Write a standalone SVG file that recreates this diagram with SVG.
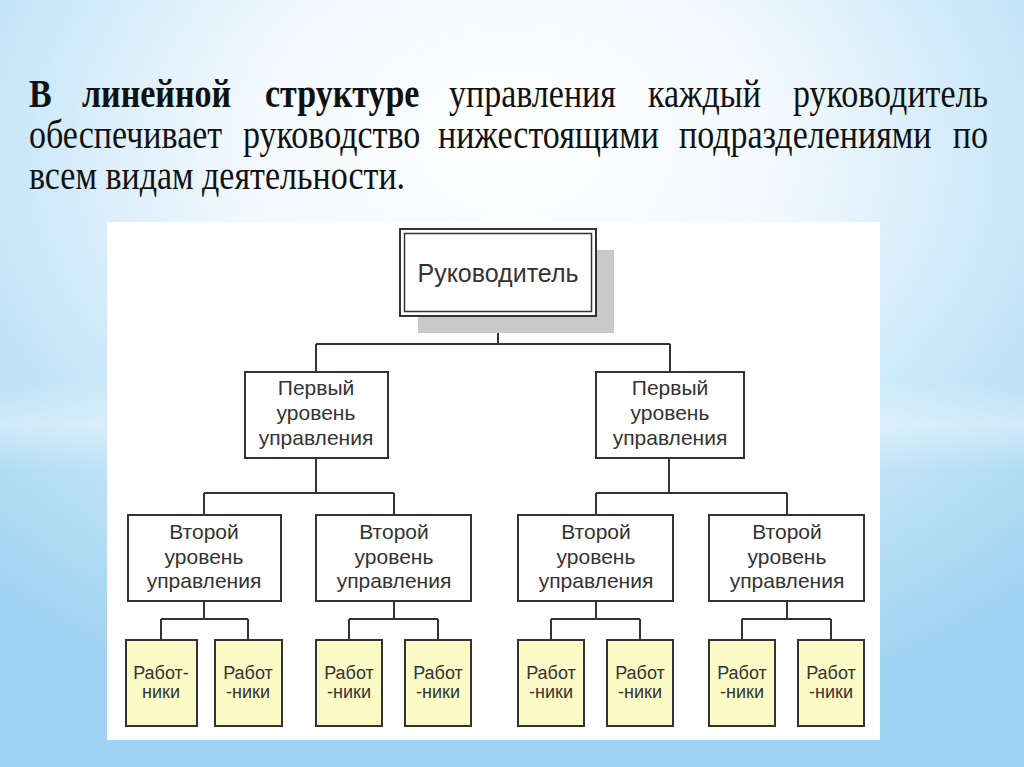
<svg xmlns="http://www.w3.org/2000/svg" width="1024" height="767" viewBox="0 0 1024 767">
<defs>
<radialGradient id="bg" cx="50%" cy="22%" r="75%" fx="50%" fy="18%">
<stop offset="0" stop-color="#ffffff"/>
<stop offset="0.35" stop-color="#f2f9fe"/>
<stop offset="0.7" stop-color="#c4e5f8"/>
<stop offset="1" stop-color="#9fd3f1"/>
</radialGradient>
<linearGradient id="band" x1="0" y1="0" x2="0" y2="1">
<stop offset="0" stop-color="#ffffff" stop-opacity="0"/>
<stop offset="0.5" stop-color="#ffffff" stop-opacity="0.35"/>
<stop offset="1" stop-color="#ffffff" stop-opacity="0"/>
</linearGradient>
<style>
.hd{font-family:"Liberation Serif","Times New Roman",serif;font-size:34px;fill:#111}
.b{font-weight:bold}
.box{fill:#ffffff;stroke:#333333;stroke-width:2}
.wk{fill:#fcfbc6;stroke:#333333;stroke-width:2}
.t{font-family:"Liberation Sans",Arial,sans-serif;font-size:21px;fill:#333333;text-anchor:middle}
.tt{font-family:"Liberation Sans",Arial,sans-serif;font-size:25px;fill:#333333;text-anchor:middle}
.tw{font-family:"Liberation Sans",Arial,sans-serif;font-size:18px;fill:#333333;text-anchor:middle}
.ln{fill:none;stroke:#333333;stroke-width:2}
</style>
</defs>
<rect x="0" y="0" width="1024" height="767" fill="url(#bg)"/>
<rect x="0" y="380" width="1024" height="90" fill="url(#band)"/>

<g id="header" transform="scale(1,1.15)">
<text class="hd b" x="29" y="93">В</text>
<text class="hd b" x="82" y="93">линейной</text>
<text class="hd b" x="265" y="93">структуре</text>
<text class="hd" x="449" y="93">управления</text>
<text class="hd" x="648" y="93">каждый</text>
<text class="hd" x="988" y="93" text-anchor="end">руководитель</text>
<text class="hd" x="29" y="128.7">обеспечивает</text>
<text class="hd" x="243" y="128.7">руководство</text>
<text class="hd" x="438" y="128.7">нижестоящими</text>
<text class="hd" x="679" y="128.7">подразделениями</text>
<text class="hd" x="988" y="128.7" text-anchor="end">по</text>
<text class="hd" x="29" y="164.3">всем видам деятельности.</text>
</g>

<rect id="panel" x="107" y="222" width="773" height="518" fill="#ffffff"/>

<g id="connectors">
<path class="ln" d="M498 316V344M316 344H670M316 344V372M670 344V372"/>
<path class="ln" d="M316 458V493M204 493H394M204 493V515M394 493V515"/>
<path class="ln" d="M669 458V493M596 493H787M596 493V515M787 493V515"/>
<path class="ln" d="M204 601V619M161 619H248M161 619V640M248 619V640"/>
<path class="ln" d="M394 601V619M349 619H438M349 619V640M438 619V640"/>
<path class="ln" d="M596 601V619M551 619H640M551 619V640M640 619V640"/>
<path class="ln" d="M787 601V619M742 619H831M742 619V640M831 619V640"/>
</g>

<g id="top">
<rect x="418" y="250" width="196" height="83" fill="#c9c9c9"/>
<rect class="box" x="400" y="229" width="196" height="87"/>
<rect x="404.5" y="233.5" width="187" height="78" fill="none" stroke="#333333" stroke-width="1.5"/>
<text class="tt" x="498" y="282">Руководитель</text>
</g>

<g id="l1a">
<rect class="box" x="245" y="372" width="143" height="86"/>
<text class="t" x="316" y="395">Первый</text>
<text class="t" x="316" y="420">уровень</text>
<text class="t" x="316" y="445">управления</text>
</g>
<g id="l1b">
<rect class="box" x="596" y="372" width="148" height="86"/>
<text class="t" x="670" y="395">Первый</text>
<text class="t" x="670" y="420">уровень</text>
<text class="t" x="670" y="445">управления</text>
</g>

<g id="l2a">
<rect class="box" x="128" y="515" width="153" height="86"/>
<text class="t" x="204" y="539">Второй</text>
<text class="t" x="204" y="564">уровень</text>
<text class="t" x="204" y="588">управления</text>
</g>
<g id="l2b">
<rect class="box" x="316" y="515" width="155" height="86"/>
<text class="t" x="394" y="539">Второй</text>
<text class="t" x="394" y="564">уровень</text>
<text class="t" x="394" y="588">управления</text>
</g>
<g id="l2c">
<rect class="box" x="518" y="515" width="155" height="86"/>
<text class="t" x="596" y="539">Второй</text>
<text class="t" x="596" y="564">уровень</text>
<text class="t" x="596" y="588">управления</text>
</g>
<g id="l2d">
<rect class="box" x="709" y="515" width="155" height="86"/>
<text class="t" x="787" y="539">Второй</text>
<text class="t" x="787" y="564">уровень</text>
<text class="t" x="787" y="588">управления</text>
</g>

<g id="w1">
<rect class="wk" x="126" y="640" width="71" height="86"/>
<text class="tw" x="161" y="679">Работ-</text>
<text class="tw" x="161" y="698">ники</text>
</g>
<g id="w2">
<rect class="wk" x="215" y="640" width="67" height="86"/>
<text class="tw" x="248" y="679">Работ</text>
<text class="tw" x="248" y="698">-ники</text>
</g>
<g id="w3">
<rect class="wk" x="316" y="640" width="66" height="86"/>
<text class="tw" x="349" y="679">Работ</text>
<text class="tw" x="349" y="698">-ники</text>
</g>
<g id="w4">
<rect class="wk" x="405" y="640" width="66" height="86"/>
<text class="tw" x="438" y="679">Работ</text>
<text class="tw" x="438" y="698">-ники</text>
</g>
<g id="w5">
<rect class="wk" x="518" y="640" width="66" height="86"/>
<text class="tw" x="551" y="679">Работ</text>
<text class="tw" x="551" y="698">-ники</text>
</g>
<g id="w6">
<rect class="wk" x="607" y="640" width="66" height="86"/>
<text class="tw" x="640" y="679">Работ</text>
<text class="tw" x="640" y="698">-ники</text>
</g>
<g id="w7">
<rect class="wk" x="709" y="640" width="66" height="86"/>
<text class="tw" x="742" y="679">Работ</text>
<text class="tw" x="742" y="698">-ники</text>
</g>
<g id="w8">
<rect class="wk" x="798" y="640" width="66" height="86"/>
<text class="tw" x="831" y="679">Работ</text>
<text class="tw" x="831" y="698">-ники</text>
</g>
</svg>
